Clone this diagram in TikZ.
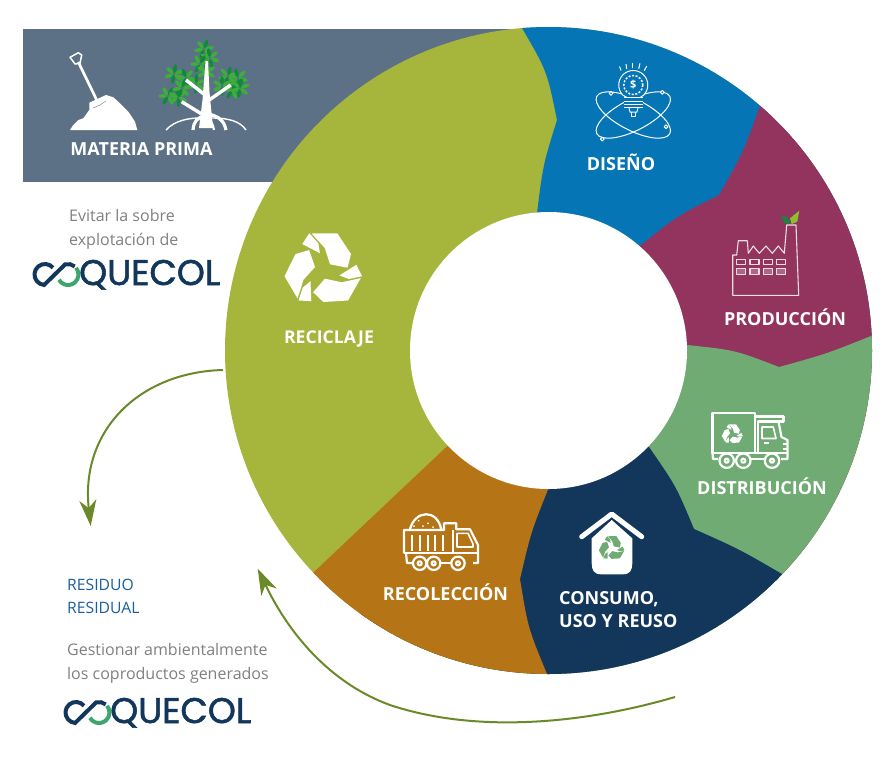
\documentclass[tikz,border=0pt]{standalone}
\usepackage{fontspec}
\usepackage{graphicx}
\usetikzlibrary{arrows.meta}
\setmainfont{Open Sans}
\newfontfamily\logofont{Poppins}
\definecolor{slatebox}{HTML}{5D7186}
\definecolor{olivepart}{HTML}{A6B63D}
\definecolor{bluepart}{HTML}{0575B6}
\definecolor{purplepart}{HTML}{93345E}
\definecolor{greenpart}{HTML}{6FAB72}
\definecolor{navypart}{HTML}{12375A}
\definecolor{orangepart}{HTML}{B57416}
\definecolor{arrowgreen}{HTML}{6A8A2A}
\definecolor{logogreen}{HTML}{3FA56F}
\definecolor{leafdark}{HTML}{0F8A3C}
\definecolor{leaflight}{HTML}{3CAE3A}
\definecolor{sprout}{HTML}{8FBE2F}
\definecolor{notegray}{HTML}{808080}
\definecolor{wastblue}{HTML}{1A5E9E}
\definecolor{factoryline}{HTML}{EBDCE3}

\tikzset{
  recycle/.pic={
    \foreach \ang in {0,120,240} {
      \fill[#1,yscale=-1,rotate=\ang] (-21,-26) -- (-14,-36.7) -- (-5,-26.7) -- (-3.3,-16.7) -- cycle;
      \fill[#1,yscale=-1,rotate=\ang] (-11.7,-36.5) -- (14,-36.7) -- (27.7,-16) -- (24.3,-2.3)
        -- (6.7,-5.7) -- (1.5,-22) -- cycle;
    }
  },
  leafs/.pic={
    \foreach \ang/\tone in {0/leaflight,60/leafdark,120/leaflight,180/leaflight,240/leafdark,300/leaflight}
      \fill[\tone,rotate=\ang] (5.5,0) ellipse (4.4 and 1.9);
  },
  coquecol/.pic={
    \begin{scope}[yscale=-1]
      \draw[navypart,line width=4] (8.04,-6.75) arc[start angle=-40,end angle=-265,radius=10.5]
        -- (20.1,-10.09) arc[start angle=-106,end angle=-50,radius=10.5];
      \draw[logogreen,line width=4] (31.04,-6.75) arc[start angle=-40,end angle=150,radius=10.5];
    \end{scope}
    \node[anchor=base west,inner sep=0pt,navypart] (#1) at (34,-10.5) {\resizebox{141pt}{!}{\logofont\addfontfeature{FakeBold=1.6}QUECOL}};
  }
}

\begin{document}
\begin{tikzpicture}[x=1pt,y=1pt,yscale=-1,
    partlabel/.style={white,font=\fontsize{18}{21}\selectfont\bfseries,inner sep=0pt},
    note/.style={notegray,font=\fontsize{16}{24}\selectfont,inner sep=0pt,anchor=west},
    waste/.style={wastblue,font=\fontsize{15.7}{23}\selectfont,inner sep=0pt,anchor=west},
    flow/.style={arrowgreen,line width=2,-{Stealth[length=26pt,width=17pt,inset=8pt]}},
    iconline/.style={white,line width=2.2,line join=round},
    thinline/.style={white,line width=1,line join=round}]
  \useasboundingbox (0,0) rectangle (892,772);

  \fill[slatebox] (23,29) rectangle (535,182);

  \begin{scope}
    \clip (548.5,350.5) circle (323.5);
    \fill[olivepart] (548.5,350.5) circle (330);
    \fill[bluepart] (537,213) .. controls (543,165) .. (557,120) .. controls (547,71) .. (522,28)
      -- (520,10) -- (900,10) -- (900,336) -- (548.5,350.5) -- cycle;
    \fill[purplepart] (640,246) .. controls (677,216) .. (719,195) .. controls (743,153) .. (760,106)
      -- (800,60) -- (900,60) -- (900,640) -- (850,640) -- (548.5,350.5) -- cycle;
    \fill[greenpart] (687,345) .. controls (735,350) .. (779,367) .. controls (826,354) .. (871,336)
      -- (900,335) -- (900,700) -- (546,700) -- (548.5,350.5) -- cycle;
    \fill[navypart] (649,447) .. controls (676,486) .. (694,529) .. controls (739,549) .. (782,574)
      -- (800,592) -- (800,800) -- (300,800) -- (300,700) -- (548.5,350.5) -- cycle;
    \fill[orangepart] (548,489.5) .. controls (531,532) .. (520,579) .. controls (528,628) .. (547,674)
      -- (547,700) -- (200,700) -- (267,616.3) -- (548.5,350.5) -- cycle;
  \end{scope}
  \fill[white] (548.5,350.5) circle (138.5);

  % labels
  \node[partlabel] (materia) at (141.5,149) {MATERIA PRIMA};
  \node[partlabel] (diseno) at (621,162) {DISEÑO};
  \node[partlabel] (produccion) at (785,317) {PRODUCCIÓN};
  \node[partlabel] (distribucion) at (762,486) {DISTRIBUCIÓN};
  \node[partlabel,anchor=west,align=left,font=\fontsize{18}{23}\selectfont\bfseries] (consumo) at (559,610) {CONSUMO,\\USO Y REUSO};
  \node[partlabel] (recoleccion) at (445.5,592) {RECOLECCIÓN};
  \node[partlabel,font=\fontsize{17.6}{21}\selectfont\bfseries] (reciclaje) at (329,338.5) {RECICLAJE};

  \node[note,align=left] (evitar) at (69,229) {Evitar la sobre\\explotación de};
  \node[waste,align=left] (residuo) at (67,596.5) {RESIDUO\\RESIDUAL};
  \node[note,align=left] (gestionar) at (67,663) {Gestionar ambientalmente\\los coproductos generados};

  \pic at (45,274.5) {coquecol=logotop};
  \pic at (76,712.5) {coquecol=logobottom};

  % arrows
  \coordinate (fromreciclaje) at (223,370);
  \coordinate (toresiduo) at (90.7,526);
  \coordinate (fromconsumo) at (675,697);
  \coordinate (torecoleccion) at (257.7,568.7);
  \draw[flow] (fromreciclaje) .. controls (140,372) and (80,430) .. (toresiduo);
  \draw[flow] (fromconsumo) .. controls (590,722) and (480,735) .. (390,705)
    .. controls (335,685) and (292,640) .. (torecoleccion);

  % shovel and pile
  \fill[white] (70,130) -- (137.3,130) -- (135,121.7) -- (128.3,111.7) -- (120,103.3) -- (113.3,97.3)
    -- (106,95) -- (89.3,102.7) -- (89.3,110) -- (83.3,118.3) -- (78.3,120) -- (73.3,125) -- cycle;
  \draw[white,line width=2.7] (78.3,62) -- (96.7,100);
  \draw[white,line width=1.5,line join=round] (70,57.3) -- (78.3,52.7) -- (81.7,55) -- (80,63.3) -- (75,64) -- cycle;
  \draw[slatebox,line width=0.4] (93,108) -- (100,105) -- (106,101);

  % mangrove
  \foreach \px/\py/\pa in {204/49/10,210/58/40,200/64/0,206/72/30,174/74/20,186/78/50,168/96/0,178/97/35,182/88/10,196/84/25,
      228/76/15,238/78/45,232/90/0,222/86/30,240/88/20}
    \pic[rotate=\pa] at (\px,\py) {leafs};
  \fill[white] (205.5,61) -- (208,61) -- (209.5,92) -- (213,128) -- (199,128) -- (202.5,100) -- cycle;
  \draw[white,line width=3.4] (186,80) -- (205,95);
  \draw[white,line width=3.4] (230.7,85) -- (206.7,101.7);
  \draw[white,line width=3.4] (181.7,101.7) -- (203.3,115);
  \draw[white,line width=1.4] (166,130) .. controls (175,120) and (190,118) .. (200,118);
  \draw[white,line width=3.2] (193,130) .. controls (194,120) and (198,118) .. (204,116);
  \draw[white,line width=3.2] (226,130) .. controls (224,120) and (218,116) .. (208,114);
  \draw[white,line width=1.4] (246,130) .. controls (240,121) and (228,118) .. (212,118);
  \draw[white,line width=2.2] (214,130) .. controls (213,124) and (211,120) .. (207,118);

  % recycling
  \pic at (323.3,270) {recycle=white};

  % bulb and orbits
  \begin{scope}[thinline]
    \draw (633.3,115) ellipse[x radius=41,y radius=15.5,rotate=27];
    \draw (633.3,115) ellipse[x radius=41,y radius=15.5,rotate=-27];
    \draw[fill=bluepart] (623,95.25) arc[start angle=135,end angle=405,radius=14.5] -- (640,97.5) -- (627,97.5) -- cycle;
    \fill[bluepart] (624,97) rectangle (643,112);
    \foreach \ly in {97.5,101,104.5,107.5} \draw (624,\ly) -- (643,\ly);
    \draw (629,107.5) -- (630,112) -- (637,112) -- (638,107.5);
    \draw (631.5,112) -- (631.5,116.5) -- (635.5,116.5) -- (635.5,112);
    \draw[line width=1.5,dash pattern=on 2pt off 1.6pt] (633.3,85) circle (9.5);
    \foreach \rx/\ry/\sx/\sy in {619.5/66.5/621/70.5,626/64/626.7/69,632.7/62.7/632.7/68,640/63.3/638.7/68.7,646.7/66/644.3/70.7}
      \draw (\rx,\ry) -- (\sx,\sy);
    \foreach \cx/\cy in {611/93.3,662.3/92.3,602.3/139,666/126.7}
      \draw[fill=bluepart] (\cx,\cy) circle (1.9);
  \end{scope}
  \node[white,font=\fontsize{11}{11}\selectfont\bfseries,inner sep=0pt] (dollar) at (633.3,85) {\$};

  % factory
  \begin{scope}[factoryline,line width=1.1,line join=round]
    \draw (732.7,255) -- (732.7,295.3) -- (798.7,295.3) -- (796,225) -- (786.7,225) -- (784.3,253.3)
      -- (778.3,246) -- (772.3,253.3) -- (766,246) -- (759.3,253.3) -- (753.3,246) -- (748.3,253.3)
      -- (747.3,240.7) -- (738.3,240.7) -- (736.7,255) -- cycle;
    \foreach \wx in {736.7,750,763.3,776.7} {
      \draw (\wx,259.3) rectangle ++(9,5);
      \draw[fill=factoryline,fill opacity=0.3] (\wx,268.3) rectangle ++(9,6);
    }
  \end{scope}
  \fill[sprout] (799.3,210.7) -- (790,218.3) -- (791.7,224) -- (797.3,221.7) -- cycle;
  \fill[leafdark] (780.7,216.7) -- (786.7,216.7) -- (790.7,224) -- (785,223.3) -- cycle;

  % delivery truck
  \begin{scope}[iconline]
    \draw (712.5,413) rectangle (755,453);
    \draw (755,416.5) -- (783.5,416.5) -- (783.5,421.5) -- (758,421.5) -- (758,453);
    \draw (778.5,421.5) -- (781.5,437) -- (787.5,440) -- (787.5,459) -- (781,459);
    \draw (712.5,453) -- (787,453);
    \draw (712.5,453) -- (713,459) -- (718,459);
    \draw (751,459) -- (764,459);
    \draw[line width=1.6] (762,427) -- (773.3,427) -- (776,438.5) -- (762,438.5) -- cycle;
    \draw[line width=1.4] (764,443) -- (769,443);
    \draw[line width=1.4] (783,444) -- (787,444) (783,449) -- (787,449);
    \foreach \wx in {726.7,743.3,772} {
      \draw[fill=greenpart] (\wx,460.7) circle (7.2);
      \draw (\wx,460.7) circle (2);
    }
  \end{scope}
  \pic[scale=0.27] at (732.3,434.3) {recycle=white};

  % dump truck
  \begin{scope}[iconline]
    \draw (404,553.3) -- (404,530) -- (444,530) -- (444,523.3) -- (456.3,523.3) -- (456.3,529.3)
      -- (470,529.3) -- (478,545) -- (478,563) -- (473,563);
    \draw (453,530) -- (453,553.3);
    \draw (404,553.3) -- (478,553.3);
    \draw (406,553.3) -- (407,563) -- (412,563);
    \draw (440.4,563) -- (451.3,563);
    \foreach \sx in {412,419.7,428,435.3,443} \draw (\sx,535) -- (\sx,551);
    \draw (409.7,530) .. controls (415,509) and (438,509) .. (441.3,530);
    \draw[line width=1.6] (457,533.3) -- (468,533.3) -- (473,544) -- (473,547) -- (457,547) -- cycle;
    \foreach \wx in {419.7,433.7,458} {
      \draw[fill=orangepart] (\wx,563.3) circle (6.7);
      \draw (\wx,563.3) circle (2);
    }
  \end{scope}
  \foreach \dx/\dy in {418.7/520.7,423/526,428/523.3,433/527,414/526}
    \fill[white] (\dx,\dy) circle (1);

  % house
  \fill[white] (591.7,538.3) -- (611.7,520) -- (632.3,538.3) -- (632.3,563.3)
    .. controls (632.3,570) and (630,574.3) .. (623,574.3) -- (601,574.3)
    .. controls (594,574.3) and (591.7,570) .. (591.7,563.3) -- cycle;
  \draw[white,line width=5,line cap=round,line join=round] (581.7,536.7) -- (611.7,514) -- (641.7,536.7);
  \pic[scale=0.33] at (611.7,548.3) {recycle=greenpart};
\end{tikzpicture}
\end{document}
